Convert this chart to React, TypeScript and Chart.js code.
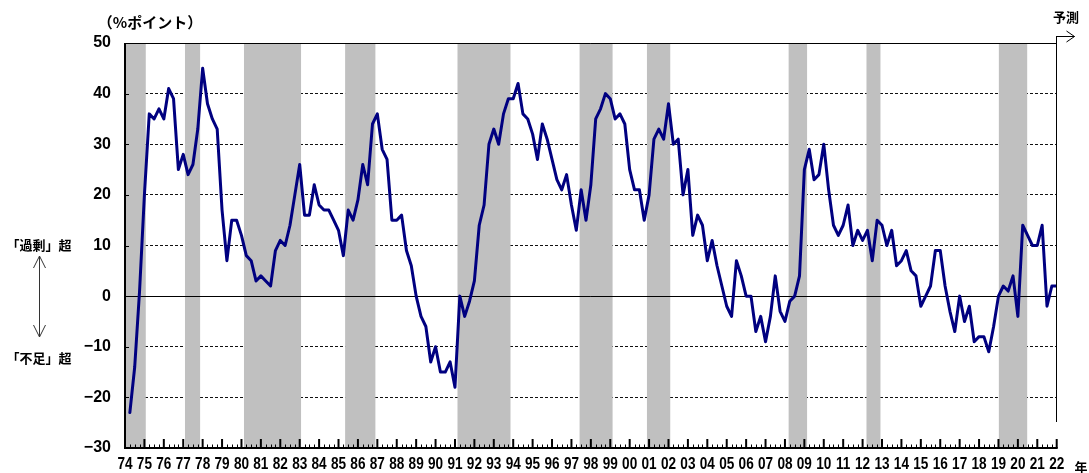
import { useEffect, useRef } from 'react';
import { Chart, registerables } from 'chart.js';

Chart.register(...registerables);

// First quarterly observation position on the year axis, and step between quarters
const firstQuarterPos = 1974.25;
const quarterStep = 0.25;

// DI values (%ポイント), quarterly
const diValues: number[] = [
  -23, -14, 1, 20,
  36, 35, 37, 35,
  41, 39, 25, 28,
  24, 26, 33, 45,
  38, 35, 33, 17,
  7, 15, 15, 12,
  8, 7, 3, 4,
  3, 2, 9, 11,
  10, 14, 20, 26,
  16, 16, 22, 18,
  17, 17, 15, 13,
  8, 17, 15, 19,
  26, 22, 34, 36,
  29, 27, 15, 15,
  16, 9, 6, 0,
  -4, -6, -13, -10,
  -15, -15, -13, -18,
  0, -4, -1, 3,
  14, 18, 30, 33,
  30, 36, 39, 39,
  42, 36, 35, 32,
  27, 34, 31, 27,
  23, 21, 24, 18,
  13, 21, 15, 22,
  35, 37, 40, 39,
  35, 36, 34, 25,
  21, 21, 15, 20,
  31, 33, 31, 38,
  30, 31, 20, 25,
  12, 16, 14, 7,
  11, 6, 2, -2,
  -4, 7, 4, 0,
  0, -7, -4, -9,
  -4, 4, -3, -5,
  -1, 0, 4, 25,
  29, 23, 24, 30,
  21, 14, 12, 14,
  18, 10, 13, 11,
  13, 7, 15, 14,
  10, 13, 6, 7,
  9, 5, 4, -2,
  0, 2, 9, 9,
  2, -3, -7, 0,
  -5, -2, -9, -8,
  -8, -11, -6, 0,
  2, 1, 4, -4,
  14, 12, 10, 10,
  14, -2, 2, 2,
];

// Year axis
const yearMin = 1974;
const yearMax = 2022;
const yearLabels: string[] = [
  '74', '75', '76', '77', '78', '79', '80', '81', '82', '83',
  '84', '85', '86', '87', '88', '89', '90', '91', '92', '93',
  '94', '95', '96', '97', '98', '99', '00', '01', '02', '03',
  '04', '05', '06', '07', '08', '09', '10', '11', '12', '13',
  '14', '15', '16', '17', '18', '19', '20', '21', '22',
];

// Value axis
const yMin = -30;
const yMax = 50;
const yStep = 10;

// Recession periods (shaded), in year units
const recessionBands: [number, number][] = [
  [1974.0, 1975.07],
  [1977.09, 1977.87],
  [1980.13, 1983.07],
  [1985.34, 1986.9],
  [1991.13, 1993.86],
  [1997.42, 1999.12],
  [2000.89, 2002.09],
  [2008.19, 2009.14],
  [2012.2, 2012.92],
  [2019.02, 2020.48],
];

// Forecast marker position
const forecastFrom = 2021.95;

const unitLabel = '（%ポイント）';
const excessLabel = '「過剰」超';
const shortageLabel = '「不足」超';
const forecastLabel = '予測';
const yearUnitLabel = '年';

const LATIN = '"Liberation Sans", Arial, sans-serif';
const CJK = '"Noto Sans CJK JP", "Noto Sans CJK SC", sans-serif';

function seg(ctx: CanvasRenderingContext2D, x0: number, y0: number, x1: number, y1: number) {
  ctx.beginPath();
  ctx.moveTo(x0, y0);
  ctx.lineTo(x1, y1);
  ctx.stroke();
}

const decorPlugin = {
  id: 'decor',
  beforeDatasetsDraw(chart: any) {
    const { ctx, chartArea: a } = chart;
    const x = chart.scales.x;
    const y = chart.scales.y;
    ctx.save();
    // recession shading
    ctx.fillStyle = '#C0C0C0';
    for (const [s, e] of recessionBands) {
      const x0 = x.getPixelForValue(s);
      const x1 = x.getPixelForValue(e);
      ctx.fillRect(x0, a.top, x1 - x0, a.bottom - a.top);
    }
    // zero line
    ctx.strokeStyle = '#000';
    ctx.lineWidth = 1;
    const y0 = Math.round(y.getPixelForValue(0)) + 0.5;
    seg(ctx, a.left, y0, a.right, y0);
    // top border
    const yt = Math.round(a.top) + 0.5;
    seg(ctx, a.left, yt, a.right, yt);
    // y-axis small inside ticks
    for (let v = yMin; v <= yMax; v += yStep) {
      const py = Math.round(y.getPixelForValue(v)) + 0.5;
      seg(ctx, a.left, py, a.left + 4, py);
    }
    // left axis
    ctx.lineWidth = 2;
    seg(ctx, a.left, a.top, a.left, a.bottom + 1);
    // bottom axis
    seg(ctx, a.left - 1, a.bottom, a.right + 1, a.bottom);
    // x ticks: major at years, minor at quarters
    for (let yr = yearMin; yr <= yearMax; yr++) {
      const px = x.getPixelForValue(yr);
      ctx.lineWidth = 2;
      seg(ctx, px, a.bottom, px, a.bottom - 9);
      if (yr < yearMax) {
        ctx.lineWidth = 1;
        for (let q = 1; q < 4; q++) {
          const qx = Math.round(x.getPixelForValue(yr + q * quarterStep)) + 0.5;
          seg(ctx, qx, a.bottom, qx, a.bottom - 3.5);
        }
      }
    }
    ctx.restore();
  },
  afterDraw(chart: any) {
    const { ctx } = chart;
    const x = chart.scales.x;
    ctx.save();
    ctx.fillStyle = '#000';
    ctx.textAlign = 'center';
    ctx.textBaseline = 'middle';

    // year labels under the axis ticks, horizontally condensed
    ctx.font = `bold 17px ${LATIN}`;
    for (const t of x.ticks) {
      const idx = Math.round(t.value) - yearMin;
      const label = yearLabels[idx];
      if (!label) continue;
      const px = x.getPixelForValue(t.value);
      ctx.save();
      ctx.translate(px, 464);
      ctx.scale(0.8, 1);
      ctx.fillText(label, 0, 0);
      ctx.restore();
    }

    ctx.font = `bold 15px ${CJK}`;
    ctx.fillText(unitLabel, 150, 22);
    ctx.font = `bold 13px ${CJK}`;
    ctx.fillText(excessLabel, 39, 245);
    ctx.fillText(shortageLabel, 39, 358);
    ctx.fillText(forecastLabel, 1066, 17);
    ctx.fillText(yearUnitLabel, 1081, 467);

    // double-headed arrow
    ctx.strokeStyle = '#333';
    ctx.lineWidth = 1;
    const ax = 39.5;
    seg(ctx, ax, 256, ax, 337);
    ctx.beginPath();
    ctx.moveTo(ax - 6, 268);
    ctx.lineTo(ax, 256);
    ctx.lineTo(ax + 6, 268);
    ctx.stroke();
    ctx.beginPath();
    ctx.moveTo(ax - 6, 325);
    ctx.lineTo(ax, 337);
    ctx.lineTo(ax + 6, 325);
    ctx.stroke();

    // forecast marker
    const fx = Math.round(x.getPixelForValue(forecastFrom)) + 0.5;
    ctx.strokeStyle = '#000';
    ctx.lineWidth = 1;
    seg(ctx, fx, 36, fx, 422);
    seg(ctx, fx, 36.5, fx + 18, 36.5);
    ctx.beginPath();
    ctx.moveTo(fx + 10, 31);
    ctx.lineTo(fx + 18, 36.5);
    ctx.lineTo(fx + 10, 42);
    ctx.stroke();
    ctx.restore();
  },
};

export default function App() {
  const canvasRef = useRef<HTMLCanvasElement | null>(null);

  useEffect(() => {
    document.body.style.margin = '0';
    const canvas = canvasRef.current;
    if (!canvas) return;
    const points = diValues.map((v, i) => ({ x: firstQuarterPos + i * quarterStep, y: v }));
    const chart = new Chart(canvas, {
      type: 'line',
      data: {
        datasets: [
          {
            data: points,
            borderColor: '#000080',
            borderWidth: 3,
            pointRadius: 0,
            tension: 0,
            borderJoinStyle: 'round',
            borderCapStyle: 'round',
            fill: false,
          },
        ],
      },
      options: {
        responsive: false,
        animation: false,
        devicePixelRatio: 1,
        layout: { padding: { top: 43, right: 32.3, bottom: 0, left: 0 } },
        plugins: {
          legend: { display: false },
          tooltip: { enabled: false },
          title: { display: false },
        },
        scales: {
          x: {
            type: 'linear',
            min: yearMin,
            max: yearMax,
            ticks: {
              display: false,
              stepSize: 1,
              autoSkip: false,
              maxRotation: 0,
              minRotation: 0,
              callback: (v: any) => yearLabels[Math.round(Number(v)) - yearMin] ?? '',
            },
            grid: { display: false, drawTicks: false },
            border: { display: false },
            afterFit: (s: any) => {
              s.height = 25;
            },
          },
          y: {
            type: 'linear',
            min: yMin,
            max: yMax,
            ticks: {
              stepSize: yStep,
              color: '#000',
              padding: 14,
              font: { family: LATIN, size: 16, weight: 'bold' },
              callback: (v: any) => (Number(v) < 0 ? '\u2212' + Math.abs(Number(v)) : String(v)),
            },
            grid: {
              drawTicks: false,
              lineWidth: 1,
              color: (c: any) =>
                c.tick && (c.tick.value === 0 || c.tick.value === yMax || c.tick.value === yMin)
                  ? 'rgba(0,0,0,0)'
                  : '#111',
            },
            border: { display: false, dash: [3, 2] },
            afterFit: (s: any) => {
              s.width = 125;
            },
          },
        },
      } as any,
      plugins: [decorPlugin],
    });
    return () => chart.destroy();
  }, []);

  return (
    <canvas
      ref={canvasRef}
      width={1089}
      height={473}
      style={{ position: 'fixed', left: 0, top: 0, display: 'block' }}
    />
  );
}
